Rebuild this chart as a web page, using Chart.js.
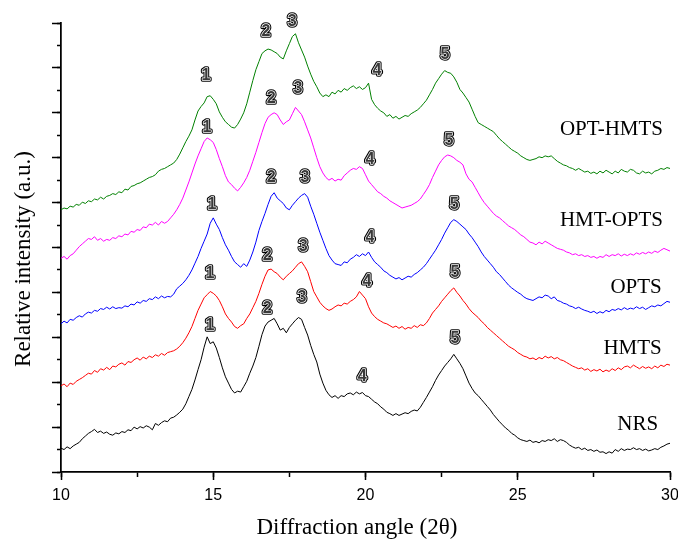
<!DOCTYPE html>
<html>
<head>
<meta charset="utf-8">
<script src="https://cdn.jsdelivr.net/npm/chart.js@4.4.0/dist/chart.umd.min.js"></script>
<style>
  html, body { margin: 0; padding: 0; background: #fff; }
</style>
</head>
<body>
<canvas id="xrdChart" width="678" height="542"></canvas>
<script>
// 2-theta grid of the scans: 10.0 .. 30.0 in 0.1 steps
const angleStart = 10;
const angleStep = 0.1;

const seriesNames = ['NRS', 'HMTS', 'OPTS', 'HMT-OPTS', 'OPT-HMTS'];
const seriesColors = ['#000000', '#ff0000', '#0000ff', '#ff00ff', '#008000'];

const nrs = [
  .53, .50, .56, .52, .58, .62, .66, .74, .80, .86,
  .90, .95, .88, .91, .86, .89, .84, .82, .87, .85,
  .90, .88, .94, .92, 1.00, .96, 1.01, .98, 1.03, 1.00,
  .94, 1.08, 1.04, 1.10, 1.14, 1.12, 1.20, 1.22, 1.27, 1.33,
  1.40, 1.52, 1.68, 1.84, 2.05, 2.28, 2.50, 2.78, 3.01, 2.86,
  2.90, 2.76, 2.55, 2.32, 2.12, 1.98, 1.84, 1.76, 1.80, 1.78,
  1.90, 2.02, 2.20, 2.36, 2.55, 2.80, 3.06, 3.25, 3.34, 3.38,
  3.42, 3.30, 3.16, 3.20, 3.10, 3.22, 3.30, 3.38, 3.44, 3.40,
  3.22, 3.05, 2.82, 2.62, 2.45, 2.18, 1.98, 1.82, 1.72, 1.66,
  1.70, 1.64, 1.70, 1.68, 1.74, 1.76, 1.72, 1.78, 1.74, 1.77,
  1.70, 1.68, 1.62, 1.56, 1.52, 1.45, 1.40, 1.33, 1.30, 1.26,
  1.30, 1.26, 1.29, 1.32, 1.30, 1.35, 1.38, 1.36, 1.44, 1.55,
  1.66, 1.78, 1.90, 2.04, 2.16, 2.26, 2.36, 2.44, 2.52, 2.62,
  2.52, 2.42, 2.30, 2.14, 1.98, 1.86, 1.76, 1.70, 1.62, 1.54,
  1.46, 1.38, 1.28, 1.20, 1.12, 1.05, .98, .93, .86, .82,
  .76, .72, .70, .68, .71, .66, .68, .65, .70, .68,
  .72, .70, .74, .68, .72, .70, .66, .60, .56, .53,
  .55, .50, .53, .48, .50, .46, .49, .44, .45, .41,
  .45, .42, .50, .46, .52, .48, .51, .50, .54, .50,
  .52, .48, .51, .47, .49, .52, .50, .55, .58, .62,
  .64
];

const hmts = [
  1.92, 1.96, 1.90, 1.98, 1.95, 2.02, 2.06, 2.10, 2.15, 2.20,
  2.18, 2.26, 2.22, 2.30, 2.27, 2.33, 2.28, 2.36, 2.34, 2.40,
  2.43, 2.38, 2.46, 2.44, 2.50, 2.54, 2.49, 2.56, 2.52, 2.58,
  2.55, 2.61, 2.58, 2.64, 2.60, 2.66, 2.68, 2.70, 2.74, 2.80,
  2.88, 2.98, 3.10, 3.24, 3.42, 3.60, 3.74, 3.88, 3.95, 4.02,
  3.98, 3.92, 3.82, 3.68, 3.52, 3.42, 3.34, 3.24, 3.20, 3.26,
  3.30, 3.42, 3.52, 3.66, 3.80, 3.98, 4.18, 4.36, 4.50, 4.52,
  4.46, 4.42, 4.34, 4.28, 4.36, 4.42, 4.48, 4.56, 4.64, 4.68,
  4.58, 4.46, 4.24, 4.02, 3.90, 3.78, 3.70, 3.64, 3.60, 3.63,
  3.68, 3.72, 3.70, 3.76, 3.74, 3.80, 3.84, 3.90, 4.02, 3.94,
  3.86, 3.68, 3.54, 3.46, 3.40, 3.36, 3.32, 3.30, 3.26, 3.22,
  3.25, 3.20, 3.24, 3.18, 3.22, 3.20, 3.26, 3.22, 3.28, 3.26,
  3.32, 3.42, 3.54, 3.62, 3.70, 3.80, 3.88, 3.96, 4.04, 4.10,
  4.00, 3.92, 3.82, 3.74, 3.64, 3.56, 3.50, 3.44, 3.36, 3.30,
  3.22, 3.16, 3.10, 3.04, 2.98, 2.92, 2.86, 2.80, 2.76, 2.72,
  2.66, 2.62, 2.58, 2.56, 2.52, 2.54, 2.50, 2.55, 2.52, 2.58,
  2.54, 2.57, 2.52, 2.55, 2.50, 2.48, 2.44, 2.40, 2.36, 2.33,
  2.30, 2.32, 2.27, 2.30, 2.24, 2.28, 2.25, 2.29, 2.23, 2.27,
  2.24, 2.30, 2.26, 2.32, 2.28, 2.34, 2.36, 2.32, 2.38, 2.34,
  2.30, 2.35, 2.31, 2.34, 2.30, 2.36, 2.32, 2.38, 2.35, 2.40,
  2.38
];

const opts = [
  3.30, 3.36, 3.32, 3.40, 3.38, 3.44, 3.48, 3.45, 3.52, 3.56,
  3.54, 3.60, 3.58, 3.64, 3.62, 3.67, 3.63, 3.68, 3.64, 3.66,
  3.65, 3.70, 3.68, 3.74, 3.72, 3.79, 3.76, 3.82, 3.80, 3.86,
  3.84, 3.90, 3.86, 3.92, 3.88, 3.91, 3.90, 3.96, 4.08, 4.14,
  4.20, 4.28, 4.38, 4.50, 4.65, 4.80, 4.98, 5.14, 5.30, 5.54,
  5.66, 5.52, 5.40, 5.22, 5.06, 4.94, 4.80, 4.68, 4.62, 4.56,
  4.64, 4.58, 4.72, 4.90, 5.12, 5.38, 5.58, 5.76, 5.96, 6.14,
  6.22, 6.10, 6.04, 5.98, 5.88, 5.84, 5.94, 6.02, 6.10, 6.16,
  6.20, 6.12, 5.92, 5.74, 5.54, 5.34, 5.16, 4.98, 4.82, 4.72,
  4.64, 4.62, 4.60, 4.68, 4.66, 4.74, 4.78, 4.84, 4.80, 4.86,
  4.82, 4.90, 4.78, 4.68, 4.62, 4.56, 4.48, 4.44, 4.38, 4.34,
  4.30, 4.33, 4.28, 4.32, 4.36, 4.34, 4.40, 4.44, 4.50, 4.56,
  4.64, 4.74, 4.84, 4.94, 5.06, 5.18, 5.32, 5.44, 5.56, 5.62,
  5.58, 5.52, 5.46, 5.40, 5.30, 5.22, 5.12, 5.02, 4.90, 4.80,
  4.72, 4.64, 4.56, 4.46, 4.40, 4.32, 4.24, 4.16, 4.10, 4.05,
  4.00, 3.96, 3.90, 3.86, 3.84, 3.82, 3.86, 3.90, 3.88, 3.94,
  3.92, 3.86, 3.90, 3.82, 3.80, 3.76, 3.74, 3.70, 3.68, 3.64,
  3.67, 3.63, 3.60, 3.58, 3.55, 3.58, 3.53, 3.57, 3.54, 3.60,
  3.57, 3.62, 3.60, 3.64, 3.61, 3.66, 3.62, 3.65, 3.63, 3.68,
  3.64, 3.67, 3.62, 3.66, 3.70, 3.68, 3.72, 3.70, 3.75, 3.80,
  3.78
];

const hmtOpts = [
  4.76, 4.80, 4.74, 4.82, 4.86, 4.94, 5.02, 5.08, 5.14, 5.20,
  5.18, 5.24, 5.16, 5.20, 5.14, 5.18, 5.16, 5.22, 5.20, 5.26,
  5.24, 5.30, 5.28, 5.36, 5.34, 5.40, 5.38, 5.46, 5.44, 5.52,
  5.50, 5.56, 5.50, 5.58, 5.54, 5.58, 5.66, 5.74, 5.84, 5.96,
  6.10, 6.28, 6.46, 6.66, 6.86, 7.04, 7.20, 7.36, 7.44, 7.40,
  7.34, 7.18, 6.98, 6.80, 6.60, 6.46, 6.40, 6.32, 6.26, 6.34,
  6.44, 6.56, 6.72, 6.92, 7.12, 7.34, 7.56, 7.76, 7.90, 7.96,
  8.00, 7.96, 7.84, 7.74, 7.80, 7.84, 7.98, 8.12, 8.04, 7.96,
  7.80, 7.62, 7.44, 7.22, 7.00, 6.80, 6.66, 6.56, 6.50, 6.54,
  6.48, 6.52, 6.50, 6.60, 6.66, 6.72, 6.76, 6.74, 6.80, 6.76,
  6.62, 6.48, 6.40, 6.32, 6.24, 6.20, 6.14, 6.10, 6.04, 6.00,
  5.96, 5.92, 5.88, 5.90, 5.92, 5.94, 5.98, 6.02, 6.08, 6.18,
  6.28, 6.40, 6.56, 6.70, 6.84, 6.94, 7.02, 7.06, 7.04, 7.00,
  6.94, 6.90, 6.84, 6.64, 6.52, 6.46, 6.34, 6.22, 6.10, 6.00,
  5.92, 5.84, 5.76, 5.70, 5.66, 5.60, 5.54, 5.48, 5.44, 5.40,
  5.34, 5.28, 5.24, 5.18, 5.12, 5.10, 5.06, 5.12, 5.08, 5.14,
  5.10, 5.06, 5.02, 4.98, 4.96, 4.94, 4.90, 4.88, 4.84, 4.86,
  4.82, 4.84, 4.80, 4.82, 4.78, 4.80, 4.76, 4.80, 4.78, 4.84,
  4.80, 4.84, 4.82, 4.86, 4.81, 4.85, 4.82, 4.86, 4.83, 4.88,
  4.85, 4.89, 4.86, 4.90, 4.87, 4.92, 4.89, 4.94, 4.98, 4.95,
  4.92
];

const optHmts = [
  5.84, 5.88, 5.86, 5.92, 5.90, 5.96, 5.94, 6.01, 5.98, 6.04,
  6.02, 6.08, 6.06, 6.12, 6.08, 6.14, 6.16, 6.20, 6.18, 6.24,
  6.22, 6.30, 6.28, 6.36, 6.38, 6.42, 6.44, 6.48, 6.52, 6.56,
  6.58, 6.62, 6.70, 6.74, 6.76, 6.80, 6.84, 6.88, 6.96, 7.08,
  7.22, 7.36, 7.48, 7.62, 7.84, 8.04, 8.14, 8.22, 8.36, 8.38,
  8.30, 8.20, 8.02, 7.90, 7.80, 7.74, 7.68, 7.66, 7.74, 7.86,
  8.00, 8.20, 8.46, 8.72, 8.96, 9.14, 9.32, 9.38, 9.42, 9.40,
  9.36, 9.32, 9.24, 9.20, 9.38, 9.54, 9.70, 9.76, 9.56, 9.40,
  9.24, 9.04, 8.86, 8.70, 8.58, 8.44, 8.36, 8.40, 8.36, 8.46,
  8.42, 8.50, 8.46, 8.54, 8.50, 8.56, 8.60, 8.54, 8.58, 8.52,
  8.56, 8.66, 8.30, 8.18, 8.10, 8.04, 8.00, 7.92, 7.96, 7.88,
  7.92, 7.86, 7.90, 7.94, 7.92, 7.98, 8.02, 8.06, 8.12, 8.20,
  8.28, 8.40, 8.52, 8.66, 8.76, 8.86, 8.94, 8.90, 8.88, 8.80,
  8.68, 8.52, 8.44, 8.34, 8.24, 8.08, 7.92, 7.78, 7.74, 7.70,
  7.66, 7.62, 7.58, 7.50, 7.42, 7.36, 7.30, 7.24, 7.18, 7.14,
  7.10, 7.04, 7.00, 6.96, 6.94, 6.96, 6.98, 7.02, 7.00, 7.04,
  7.02, 7.04, 6.98, 6.92, 6.88, 6.84, 6.82, 6.78, 6.76, 6.72,
  6.76, 6.72, 6.68, 6.70, 6.65, 6.68, 6.64, 6.70, 6.66, 6.72,
  6.68, 6.64, 6.70, 6.66, 6.74, 6.70, 6.68, 6.74, 6.72, 6.66,
  6.64, 6.70, 6.66, 6.68, 6.64, 6.70, 6.72, 6.76, 6.74, 6.78,
  6.76
];

const seriesValues = [nrs, hmts, opts, hmtOpts, optHmts];

// peak markers 1..5 for each series (angle, height in a.u.)
const peakNumbers = ['1', '2', '3', '4', '5'];
const peakAngles = [
  [14.89, 16.77, 17.91, 19.89, 22.94],
  [14.89, 16.77, 17.95, 20.05, 22.94],
  [14.96, 16.90, 18.01, 20.15, 22.91],
  [14.79, 16.90, 17.78, 20.15, 22.74],
  [14.76, 16.73, 17.59, 20.38, 22.61]
];
const peakHeights = [
  [3.27, 3.65, 3.88, 2.12, 2.98],
  [4.41, 4.81, 5.03, 4.23, 4.45],
  [5.95, 6.55, 6.55, 5.23, 5.95],
  [7.68, 8.31, 8.53, 6.95, 7.39],
  [8.82, 9.80, 10.04, 8.95, 9.29]
];

// sample names at the right-hand end of each trace
const nameAngles = [29.61, 29.73, 29.73, 29.77, 29.77];
const nameHeights = [1.06, 2.76, 4.12, 5.61, 7.62];

const datasets = seriesValues.map((values, s) => ({
  label: seriesNames[s],
  data: values.map((v, i) => ({ x: angleStart + i * angleStep, y: v })),
  borderColor: seriesColors[s],
  borderWidth: 1,
  pointRadius: 0,
  tension: 0,
  fill: false,
}));

const annotationPlugin = {
  id: 'xrdAnnotations',
  afterDatasetsDraw(chart) {
    const { ctx } = chart;
    const x = chart.scales.x;
    const y = chart.scales.y;
    ctx.save();
    ctx.font = 'bold 16px "Liberation Sans", Arial, sans-serif';
    ctx.textAlign = 'center';
    ctx.textBaseline = 'middle';
    ctx.lineJoin = 'round';
    peakAngles.forEach((row, s) => {
      row.forEach((angle, k) => {
        const px = x.getPixelForValue(angle);
        const py = y.getPixelForValue(peakHeights[s][k]);
        ctx.lineWidth = 3.5;
        ctx.strokeStyle = '#000';
        ctx.strokeText(peakNumbers[k], px, py);
        ctx.lineWidth = 1.4;
        ctx.strokeStyle = '#fff';
        ctx.strokeText(peakNumbers[k], px, py);
        ctx.fillStyle = '#3a3a3a';
        ctx.fillText(peakNumbers[k], px, py);
      });
    });

    ctx.font = '21px "Liberation Serif", "Times New Roman", serif';
    ctx.textAlign = 'right';
    ctx.fillStyle = '#000';
    seriesNames.forEach((name, s) => {
      ctx.fillText(name, x.getPixelForValue(nameAngles[s]), y.getPixelForValue(nameHeights[s]));
    });
    ctx.restore();
  },
};

const axisLine = { color: '#000', width: 1.5 };
const titleFont = { family: '"Liberation Serif", "Times New Roman", serif', size: 23 };

new Chart(document.getElementById('xrdChart'), {
  type: 'line',
  data: { datasets },
  plugins: [annotationPlugin],
  options: {
    responsive: false,
    animation: false,
    layout: { padding: { top: 23, right: 0, left: 0, bottom: 0 } },
    plugins: { legend: { display: false }, tooltip: { enabled: false } },
    scales: {
      x: {
        type: 'linear',
        position: 'bottom',
        weight: 1,
        min: 10,
        max: 30,
        ticks: {
          stepSize: 5,
          color: '#000',
          padding: 6,
          maxRotation: 0,
          font: { family: '"Liberation Sans", Arial, sans-serif', size: 16 },
        },
        grid: { drawOnChartArea: false, tickLength: 8, tickColor: '#000', tickWidth: 1.5 },
        border: axisLine,
        title: {
          display: true,
          // trailing spaces nudge the centred title a little to the left, as in the original
          text: 'Diffraction angle (2θ)   ',
          color: '#000',
          font: titleFont,
          padding: { top: 0, bottom: 0 },
        },
        // the last label "30" is allowed to run past the right edge, as in the original
        afterFit: (scale) => { scale.height = 70; scale.paddingRight = 8; },
      },
      xMinor: {
        type: 'linear',
        position: 'bottom',
        weight: 0,
        min: 10,
        max: 30,
        ticks: { display: false, stepSize: 2.5 },
        grid: { drawOnChartArea: false, tickLength: 5, tickColor: '#000', tickWidth: 1.5 },
        border: axisLine,
        afterFit: (scale) => { scale.height = 0; scale.paddingRight = 8; },
      },
      y: {
        position: 'left',
        weight: 1,
        min: 0,
        max: 10,
        ticks: { display: false, stepSize: 1 },
        grid: { drawOnChartArea: false, tickLength: 9, tickColor: '#000', tickWidth: 1.5 },
        border: axisLine,
        title: {
          display: true,
          // trailing spaces push the rotated title slightly lower, as in the original figure
          text: 'Relative intensity (a.u.)    ',
          color: '#000',
          font: titleFont,
          padding: { top: 10, bottom: 0 },
        },
        afterFit: (scale) => { scale.width = 61; },
      },
      yMinor: {
        position: 'left',
        weight: 0,
        min: 0,
        max: 10,
        ticks: { display: false, stepSize: 0.5 },
        grid: { drawOnChartArea: false, tickLength: 4, tickColor: '#000', tickWidth: 1.5 },
        border: axisLine,
        afterFit: (scale) => { scale.width = 0; },
      },
    },
  },
});
</script>
</body>
</html>
